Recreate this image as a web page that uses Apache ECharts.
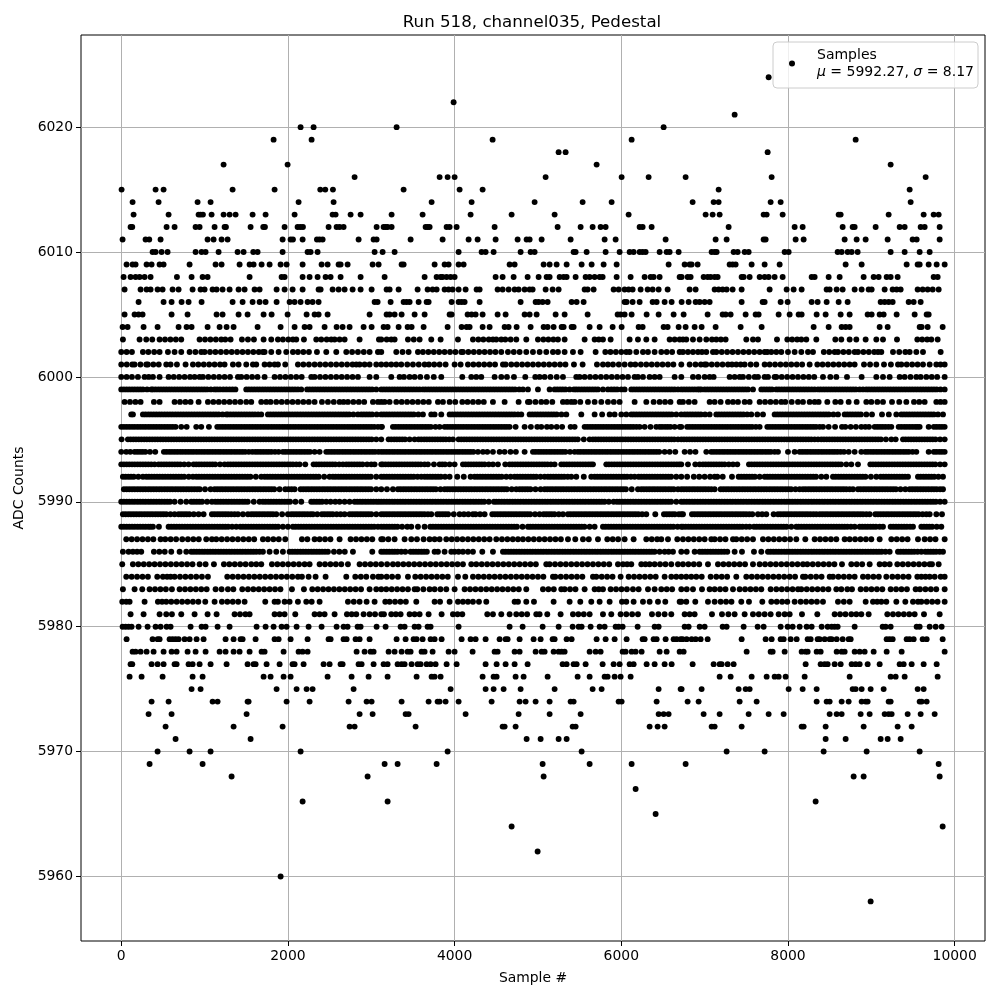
<!DOCTYPE html>
<html><head><meta charset="utf-8"><title>Pedestal</title>
<script src="https://cdn.jsdelivr.net/npm/echarts@6/dist/echarts.min.js"></script>
<style>html,body{margin:0;padding:0;background:#fff}#c{width:1000px;height:1000px}</style></head>
<body><div id="c"></div>
<script>
const titleText="Run 518, channel035, Pedestal";
const xTicks=[0,2000,4000,6000,8000,10000];
const yTicks=[5960,5970,5980,5990,6000,6010,6020];
const L6024=[7768];
const L6022=[3988];
const L6021=[7360];
const L6020=[2152,2308,3304,6508];
const L6019=[1828,2284,4456,6124,8812];
const L6018=[5248,5332,7756];
const L6017=[1228,1996,5704,9232];
const L6016=[2800,3820,3916,4000,5092,6004,6328,6772,7804,9652];
const L6015=[4,412,508,1336,1840,2388,2448,2540,3388,4060,4336,7168,9460];
const L6014=[136,448,916,1072,2128,2548,3724,4204,4960,5536,5884,6856,7108,7168,7792,7912,9472];
const L6013=[148,568,928,952,980,1084,1228,1300,1372,1576,1732,2080,2536,2572,2752,2872,3244,3616,4192,4684,5200,6088,7012,7096,7180,7708,7744,7936,8608,8632,9208,9628,9748,9808];
const L6012=[112,132,544,640,892,940,1120,1240,1256,1552,1704,1724,1960,2116,2148,2180,2488,2584,2620,2668,3064,3148,3172,3196,3244,3652,3676,3700,3904,3940,4024,4480,5236,5512,5656,5752,5812,6220,6256,6364,7288,8080,8176,8656,8776,8800,9052,9340,9400,9592,9640,9820];
const L6011=[16,292,336,472,1036,1108,1204,1276,1936,2032,2060,2176,2348,2380,2416,2848,3028,3064,3472,3856,4168,4276,4492,4756,4864,4900,5044,5392,5800,5932,6532,7132,7264,7708,7732,8092,8188,8680,8824,8932,9196,9496,9544,9820];
const L6010=[376,412,484,556,892,964,1012,1168,1396,1468,1584,1636,1936,2236,2272,2356,3040,3136,3280,4048,4324,4372,4468,4792,4912,4960,5428,5452,5584,5812,5980,6100,6148,6220,6256,6292,6460,6544,6580,6688,7084,7120,7144,7348,7396,7480,7528,7960,8008,8596,8644,8716,8764,8836,9232,9400,9580,9700];
const L6009=[64,136,172,304,364,460,508,820,1132,1204,1420,1540,1588,1684,1780,1912,1984,2176,2404,2476,2608,2632,2716,3016,3088,3364,3388,3760,3880,3928,4048,4108,4660,4720,5068,5140,5224,5344,5524,5644,5788,5944,6568,6760,6820,6844,6916,7300,7336,7372,7564,7720,7900,8692,8884,9424,9556,9580,9688,9784,9880];
const L6008=[28,112,172,220,280,352,668,844,976,1036,1540,1924,1960,2176,2260,2356,2452,2512,2632,2872,3160,3640,3784,3832,3856,3904,3952,4000,4492,4576,4708,4876,5008,5104,5140,5260,5308,5344,5452,5572,5620,5680,5740,5776,5944,6112,6280,6352,6388,6460,6700,6724,6796,6832,6988,7036,7072,7120,7156,7444,7468,7540,7660,7720,7768,7840,7936,8284,8320,8488,8620,8908,9028,9088,9184,9232,9316,9748,9796];
const L6007=[40,232,304,352,436,496,616,688,856,952,1000,1096,1144,1216,1300,1408,1480,1600,1660,1864,1960,2056,2176,2368,2392,2536,2608,2680,2776,2872,3004,3184,3220,3328,3556,3676,3736,3784,3880,3928,3976,4048,4132,4264,4300,4516,4576,4648,4720,4768,4840,4900,4936,5092,5176,5248,5560,5596,5668,5908,5968,6040,6088,6136,6232,6316,6376,6448,6556,6820,6892,7120,7168,7216,7264,7336,7444,7780,7984,8068,8164,8464,8500,8584,8656,8800,8884,8968,9004,9160,9256,9304,9352,9556,9616,9676,9736,9808];
const L6006=[208,508,604,724,808,964,1336,1456,1576,1660,1732,1864,2020,2080,2152,2236,2296,2368,3040,3076,3232,3388,3424,3460,3568,3664,3688,3964,4048,4084,4120,4300,4792,4972,5008,5056,5116,5404,5464,5548,6040,6064,6136,6220,6376,6424,6520,6604,6724,6808,6892,6940,7000,7060,7444,7696,7720,7912,7996,8284,8356,8464,8608,8716,9112,9160,9208,9256,9448,9508,9592];
const L6005=[40,160,208,256,604,796,1144,1216,1408,1516,1708,1804,1996,2224,2320,2368,2476,2980,3184,3220,3280,3364,3520,3640,3940,3964,4156,4204,4252,4336,4516,4612,4840,4900,4984,5212,5320,5596,5956,5992,6040,6124,6304,6448,6628,6748,7036,7216,7252,7312,7492,7612,7648,7888,8020,8128,8164,8344,8452,8632,8740,8956,9004,9100,9148,9304,9520,9664,9688];
const L6004=[16,76,268,436,688,784,844,1036,1180,1264,1348,1636,1912,2080,2200,2260,2440,2584,2656,2740,2908,3004,3148,3196,3328,3436,3484,3628,3916,4084,4144,4180,4336,4420,4600,4648,4744,4912,5068,5116,5188,5284,5308,5404,5428,5620,5740,5896,6004,6208,6256,6508,6556,6688,6772,6880,6964,7132,7432,7684,8308,8488,8644,8692,8740,9100,9196,9580,9604,9676,9856];
const L6003=[20,220,300,372,460,525,590,655,720,940,1005,1070,1135,1200,1248,1312,1448,1520,1592,1708,1800,1880,1940,2005,2060,2100,2192,2340,2400,2465,2520,2560,2620,2680,2860,3092,3120,3185,3240,3280,3440,3510,3580,3720,3832,4040,4220,4285,4345,4410,4460,4500,4560,4608,4672,4740,4860,5000,5065,5125,5185,5240,5320,5560,5680,5730,5780,5872,6100,6200,6300,6400,6580,6640,6700,6740,6780,6860,6940,7020,7088,7140,7195,7252,7500,7580,7640,7868,7992,8050,8110,8160,8220,8340,8568,8640,8740,8820,8932,9060,9140,9308,9552,9610,9670,9720,9796];
const L6002=[0,64,128,260,325,395,460,560,640,720,820,890,960,1000,1065,1130,1195,1260,1325,1390,1455,1520,1585,1650,1700,1720,1800,1888,1980,2060,2120,2185,2252,2348,2460,2580,2700,2770,2840,2910,2980,3080,3120,3300,3375,3448,3560,3620,3685,3750,3815,3880,3945,4010,4080,4100,4165,4230,4295,4360,4425,4490,4560,4640,4710,4780,4860,4940,5020,5100,5180,5240,5320,5420,5512,5692,5808,5870,5935,6000,6060,6100,6180,6260,6320,6400,6480,6545,6610,6700,6740,6800,6860,6920,6968,7020,7100,7140,7205,7270,7335,7400,7465,7530,7595,7660,7720,7752,7800,7860,7920,8000,8080,8160,8240,8300,8430,8495,8560,8600,8665,8730,8800,8840,8905,8970,9035,9080,9120,9260,9335,9408,9460,9540,9620,9832];
const L6001=[0,66,132,160,230,300,320,385,450,540,592,668,772,860,925,990,1055,1120,1185,1240,1340,1408,1500,1580,1620,1720,1780,1840,1880,1968,2120,2185,2252,2320,2385,2450,2515,2580,2645,2710,2775,2820,2860,2920,2980,3060,3120,3180,3240,3300,3360,3432,3500,3570,3640,3692,3755,3820,3892,4000,4072,4160,4225,4290,4355,4420,4485,4580,4612,4680,4745,4810,4875,4940,5005,5070,5135,5200,5265,5330,5432,5536,5708,5780,5840,5900,5970,6040,6112,6168,6235,6300,6365,6430,6495,6560,6625,6720,6820,6890,6955,7000,7020,7085,7150,7215,7280,7328,7380,7432,7480,7552,7620,7720,7780,7845,7910,7975,8040,8105,8170,8260,8352,8415,8480,8545,8610,8675,8740,8800,8912,8985,9060,9152,9235,9320,9360,9425,9490,9555,9620,9700,9780,9830,9880];
const L6000=[0,64,128,200,280,330,380,460,568,630,695,760,825,880,940,980,1045,1110,1175,1240,1305,1400,1440,1505,1570,1635,1720,1840,1905,1970,2035,2100,2165,2280,2320,2385,2450,2515,2580,2645,2710,2775,2840,2980,3060,3240,3340,3392,3460,3520,3588,3668,3750,3840,4092,4200,4260,4320,4480,4560,4628,4712,4848,4968,5020,5080,5150,5225,5300,5460,5500,5560,5625,5690,5755,5820,5885,5950,6015,6080,6160,6200,6260,6340,6400,6460,6640,6720,6860,6925,7000,7060,7108,7300,7360,7420,7460,7530,7600,7640,7720,7760,7840,7860,7925,7990,8055,8120,8185,8250,8315,8420,8508,8580,8708,8884,9060,9140,9220,9340,9400,9470,9540,9592,9660,9725,9790,9880];
const L5999=[0,65,130,195,260,360,380,445,510,575,640,705,770,835,900,965,1030,1120,1150,1225,1300,1370,1500,1565,1630,1695,1760,1825,1890,1955,2020,2085,2160,2230,2295,2360,2425,2490,2555,2620,2685,2750,2815,2880,2945,3010,3120,3185,3250,3315,3380,3445,3510,3580,3620,3685,3750,3815,3880,3945,4010,4075,4140,4205,4270,4335,4400,4465,4530,4595,4660,4725,4820,4880,5000,5140,5200,5265,5330,5432,5460,5525,5590,5655,5720,5840,5880,5950,6040,6120,6185,6250,6315,6380,6445,6510,6575,6640,6720,6785,6850,6915,6960,7000,7065,7130,7195,7260,7325,7390,7455,7520,7580,7680,7745,7808,7860,7925,7990,8055,8120,8185,8250,8320,8360,8425,8490,8555,8620,8685,8750,8815,8900,8940,9005,9070,9135,9200,9265,9330,9395,9460,9525,9590,9655,9720,9785,9880];
const X5999=[32,97,162,227,310,412,477,542,607,672,737,802,867,932,997,1075,1185,1262,1335,1532,1597,1662,1727,1792,1857,1922,1987,2052,2120,2262,2327,2392,2457,2522,2587,2652,2717,2782,2847,2912,2977,3060,3152,3217,3282,3347,3412,3477,3545,3652,3717,3782,3847,3912,3977,4042,4107,4172,4237,4302,4367,4432,4497,4562,4627,4692,4775,5232,5297,5380,5492,5557,5622,5687,5780,5915,6000,6152,6217,6282,6347,6412,6477,6542,6607,6680,6752,6817,6882,6937,7032,7097,7162,7227,7292,7357,7422,7487,7712,7777,7892,7957,8022,8087,8152,8217,8285,8392,8457,8522,8587,8652,8717,8782,8860,8972,9037,9102,9167,9232,9297,9362,9427,9492,9557,9622,9687,9752,9830];
const L5998=[40,105,170,232,392,460,640,705,770,832,928,1040,1105,1170,1235,1300,1365,1430,1500,1560,1680,1740,1792,1860,1925,1990,2055,2120,2185,2250,2320,2408,2480,2550,2620,2668,2720,2785,2850,2915,3020,3080,3120,3160,3220,3300,3365,3430,3495,3560,3625,3690,3800,3860,3940,4008,4092,4155,4220,4285,4350,4460,4600,4768,4880,4900,4970,5040,5100,5172,5300,5350,5400,5440,5508,5600,5680,5760,5840,5910,5980,6160,6300,6388,6460,6525,6590,6700,6740,6810,6880,7060,7120,7192,7280,7340,7400,7480,7540,7660,7725,7790,7855,7920,7968,8045,8120,8180,8260,8320,8368,8472,8568,8632,8728,8824,8940,9000,9072,9140,9248,9335,9420,9512,9575,9640,9780,9830,9880];
const L5997=[120,140,260,325,390,455,520,585,650,715,780,845,910,975,1040,1105,1170,1260,1280,1345,1410,1475,1540,1605,1680,1760,1825,1890,1955,2020,2085,2150,2215,2280,2345,2410,2475,2540,2605,2670,2735,2840,2880,2945,3010,3120,3185,3250,3315,3380,3445,3510,3620,3720,3760,3840,3940,4005,4070,4135,4200,4265,4330,4395,4460,4525,4590,4655,4720,4800,4900,4965,5030,5095,5160,5225,5340,5520,5680,5770,5860,5920,6000,6060,6120,6150,6215,6280,6345,6410,6475,6540,6605,6720,6760,6825,6890,6955,7060,7140,7205,7270,7335,7400,7465,7560,7632,7700,7840,7905,7970,8035,8100,8165,8230,8295,8360,8425,8490,8600,8680,8745,8810,8875,9008,9128,9210,9300,9360,9425,9490,9555,9620,9685,9750,9860];
const X5997=[292,357,422,487,552,617,682,747,812,877,942,1007,1072,1137,1215,1312,1377,1442,1507,1572,1642,1792,1857,1922,1987,2052,2117,2182,2247,2312,2377,2442,2507,2572,2637,2702,2785,2912,2977,3065,3152,3217,3282,3347,3412,3477,3565,3972,4037,4102,4167,4232,4297,4362,4427,4492,4557,4622,4687,4760,4932,4997,5062,5127,5192,5282,6182,6247,6312,6377,6442,6507,6572,6660,6792,6857,6922,7005,7172,7237,7302,7367,7432,7510,7872,7937,8002,8067,8132,8197,8262,8327,8392,8457,8545,8712,8777,8842,8940,9392,9457,9522,9587,9652,9717,9800];
const L5996=[0,65,130,195,260,325,390,455,520,585,652,720,785,900,960,1052,1152,1217,1282,1347,1412,1477,1542,1607,1672,1737,1802,1867,1932,1997,2062,2127,2192,2257,2322,2387,2452,2517,2582,2647,2712,2777,2842,2907,2972,3037,3120,3128,3260,3325,3390,3455,3520,3585,3650,3715,3820,3880,3945,4010,4075,4140,4205,4270,4335,4400,4465,4530,4595,4660,4732,4840,4915,4992,5040,5108,5160,5225,5290,5392,5440,5560,5625,5690,5755,5820,5885,5950,6015,6080,6145,6220,6280,6350,6420,6460,6525,6590,6700,6720,6790,6855,6920,6985,7050,7115,7180,7245,7310,7375,7440,7505,7570,7660,7752,7817,7882,7947,8012,8077,8142,8207,8272,8337,8420,8488,8565,8648,8688,8752,8815,8880,8928,8972,9040,9105,9170,9240,9328,9395,9460,9525,9580,9688,9750,9815,9880];
const X5996=[32,97,162,227,292,357,422,487,552,618,1184,1249,1314,1379,1444,1509,1574,1639,1704,1769,1834,1899,1964,2029,2094,2159,2224,2289,2354,2419,2484,2549,2614,2679,2744,2809,2874,2939,3004,3080,3292,3357,3422,3487,3552,3617,3682,3770,3912,3977,4042,4107,4172,4237,4302,4367,4432,4497,4562,4627,5592,5657,5722,5787,5852,5917,5982,6047,6112,6182,6490,6557,6640,6822,6887,6952,7017,7082,7147,7212,7277,7342,7407,7472,7537,7615,7784,7849,7914,7979,8044,8109,8174,8239,8304,8380,9072,9137,9205,9360,9427,9492,9552,9782,9847];
const L5995=[4,80,145,210,275,340,405,470,535,600,665,730,795,860,925,990,1055,1120,1185,1250,1315,1380,1445,1510,1575,1640,1705,1770,1835,1900,1965,2030,2095,2160,2225,2290,2355,2420,2485,2550,2615,2680,2745,2810,2875,2940,3005,3120,3208,3275,3340,3405,3520,3568,3635,3700,3765,3830,3895,3980,4048,4113,4178,4243,4308,4373,4438,4503,4568,4633,4698,4763,4828,4893,4958,5023,5088,5153,5218,5283,5348,5413,5478,5620,5660,5725,5790,5855,5920,5985,6050,6115,6180,6245,6310,6375,6440,6505,6570,6635,6720,6785,6850,6915,6980,7045,7110,7175,7240,7305,7370,7435,7500,7565,7630,7695,7760,7825,7890,7955,8020,8085,8150,8215,8280,8360,8400,8465,8530,8595,8660,8725,8790,8855,8920,8985,9050,9115,9240,9292,9380,9445,9510,9575,9640,9705,9770,9880];
const X5995=[112,177,242,307,372,437,502,567,632,697,762,827,892,957,1022,1087,1152,1217,1282,1347,1412,1477,1542,1607,1672,1737,1802,1867,1932,1997,2062,2127,2192,2257,2322,2387,2452,2517,2582,2647,2712,2777,2842,2907,2972,3060,3240,3307,3372,3460,3600,3667,3732,3797,3862,3935,4080,4145,4210,4275,4340,4405,4470,4535,4600,4665,4730,4795,4860,4925,4990,5055,5120,5185,5250,5315,5380,5445,5550,5692,5757,5822,5887,5952,6017,6082,6147,6212,6277,6342,6407,6472,6537,6602,6680,6752,6817,6882,6947,7012,7077,7142,7207,7272,7337,7402,7467,7532,7597,7662,7727,7792,7857,7922,7987,8052,8117,8182,8247,8320,8432,8497,8562,8627,8692,8757,8822,8887,8952,9017,9082,9175,9412,9477,9542,9607,9672,9737,9825];
const L5994=[0,60,108,160,225,290,345,408,512,577,642,707,772,837,902,967,1032,1097,1162,1227,1292,1357,1422,1487,1572,1608,1673,1738,1803,1888,1940,2005,2070,2135,2200,2265,2320,2380,2460,2525,2590,2655,2720,2785,2850,2915,2980,3045,3120,3185,3250,3315,3380,3445,3510,3575,3640,3705,3770,3835,3900,3965,4030,4095,4160,4225,4340,4392,4460,4540,4600,4670,4735,4840,4940,5005,5070,5135,5200,5265,5330,5440,5480,5545,5610,5675,5740,5805,5870,5935,6000,6065,6130,6195,6260,6325,6390,6455,6580,6648,6760,6825,6890,7020,7080,7145,7210,7275,7340,7405,7470,7535,7600,7665,7730,7795,7880,8000,8080,8140,8205,8270,8335,8400,8465,8530,8595,8672,8728,8800,8880,8928,8995,9060,9125,9190,9255,9320,9385,9450,9540,9688,9750,9815,9880];
const X5994=[192,257,544,609,674,739,804,869,934,999,1064,1129,1194,1259,1324,1389,1454,1530,1640,1705,1770,1845,1972,2037,2102,2167,2232,2492,2557,2622,2687,2752,2817,2882,2947,3012,3085,3152,3217,3282,3347,3412,3477,3542,3607,3672,3737,3802,3867,3932,3997,4062,4127,4192,4280,4972,5037,5102,5167,5232,5297,5385,5512,5577,5642,5707,5772,5837,5902,5967,6032,6097,6162,6227,6292,6357,6422,6520,7112,7177,7242,7307,7372,7437,7502,7567,7632,7697,7762,7840,8172,8237,8302,8367,8432,8497,8562,8632,8960,9027,9092,9157,9222,9287,9352,9417,9495,9780,9847];
const L5993=[0,65,130,195,260,325,400,448,513,578,643,708,808,868,933,998,1063,1128,1240,1280,1345,1410,1475,1540,1605,1670,1735,1800,1865,1930,1995,2060,2140,2208,2308,2373,2438,2503,2568,2660,2700,2765,2830,2895,3000,3040,3120,3140,3205,3270,3335,3400,3465,3530,3595,3680,3752,3820,3885,4000,4100,4165,4230,4295,4360,4460,4520,4608,4660,4725,4790,4855,4920,4985,5050,5115,5200,5280,5345,5410,5475,5540,5605,5660,5820,5885,5950,6015,6080,6145,6210,6275,6340,6405,6470,6535,6600,6665,6720,6800,6888,6940,6980,7045,7110,7175,7240,7340,7392,7532,7597,7662,7727,7792,7857,7922,7987,8052,8117,8182,8247,8312,8377,8442,8507,8572,8637,8760,8840,8988,9053,9118,9183,9248,9313,9378,9443,9508,9573,9638,9703,9768,9880];
const X5993=[32,97,162,227,292,360,480,545,610,675,755,900,965,1030,1095,1185,1312,1377,1442,1507,1572,1637,1702,1767,1832,1897,1962,2027,2100,2340,2405,2470,2535,2615,2732,2797,2862,2950,3172,3237,3302,3367,3432,3497,3562,3640,3852,3940,4132,4197,4262,4327,4410,4692,4757,4822,4887,4952,5017,5082,5155,5312,5377,5442,5507,5572,5635,5852,5917,5982,6047,6112,6177,6242,6307,6372,6437,6502,6567,6632,6695,7012,7077,7142,7207,7290,7564,7629,7694,7759,7824,7889,7954,8019,8084,8149,8214,8279,8344,8409,8474,8539,8604,8700,9020,9085,9150,9215,9280,9345,9410,9475,9540,9605,9670,9735,9825];
const L5992=[20,85,150,260,300,365,430,495,560,625,690,755,860,900,965,1030,1095,1160,1225,1290,1355,1420,1485,1550,1680,1720,1785,1850,1915,1980,2045,2110,2175,2240,2305,2370,2500,2540,2605,2670,2735,2800,2865,2930,2995,3120,3185,3250,3315,3380,3445,3510,3600,3640,3705,3770,3835,3940,4032,4110,4192,4240,4305,4370,4435,4500,4565,4672,4720,4785,4850,4915,4980,5080,5120,5185,5250,5315,5400,5460,5550,5640,5680,5745,5810,5875,5940,6005,6070,6160,6208,6273,6338,6403,6468,6533,6598,6720,6790,6870,6935,7000,7065,7120,7152,7217,7328,7408,7473,7538,7603,7720,7752,7817,7882,7947,8012,8077,8142,8207,8272,8337,8460,8540,8605,8670,8735,8800,8865,8930,9060,9112,9177,9242,9307,9372,9440,9560,9625,9690,9755,9860];
const X5992=[52,117,205,332,397,462,527,592,657,722,810,932,997,1062,1127,1192,1257,1322,1387,1452,1517,1615,1752,1817,1882,1947,2012,2077,2142,2207,2272,2337,2435,2572,2637,2702,2767,2832,2897,2962,3060,3152,3217,3282,3347,3412,3477,3555,3672,3737,3802,3885,4272,4337,4402,4467,4532,4620,4752,4817,4882,4947,5030,5152,5217,5282,5357,5712,5777,5842,5907,5972,6037,6115,6240,6305,6370,6435,6500,6565,6660,7440,7505,7570,7660,7784,7849,7914,7979,8044,8109,8174,8239,8304,8400,8572,8637,8702,8767,8832,8897,8995,9145,9210,9275,9340,9405,9592,9657,9722,9805];
const L5991=[32,97,162,227,292,357,422,487,552,617,682,747,812,877,942,1072,1120,1185,1250,1315,1380,1445,1510,1575,1640,1705,1770,1835,1968,2008,2080,2152,2217,2282,2347,2412,2477,2542,2607,2672,2737,2802,2867,2932,2997,3120,3188,3260,3320,3385,3450,3515,3580,3645,3710,3775,3880,3912,3977,4042,4107,4172,4237,4302,4367,4432,4497,4562,4627,4740,4780,4845,4910,5032,5080,5145,5210,5275,5340,5405,5470,5535,5600,5665,5730,5795,5860,5925,5990,6055,6200,6240,6305,6370,6435,6500,6565,6630,6720,6785,6850,6915,6980,7045,7120,7192,7257,7322,7387,7452,7517,7582,7647,7712,7777,7842,7907,7972,8037,8140,8180,8245,8310,8375,8440,8505,8570,8635,8700,8780,8840,8905,8970,9035,9100,9165,9230,9295,9408,9460,9525,9590,9655,9720,9785,9860];
const X5991=[65,130,195,260,325,390,455,520,585,650,715,780,845,910,1005,1152,1217,1282,1347,1412,1477,1542,1607,1672,1737,1802,1900,2044,2184,2249,2314,2379,2444,2509,2574,2639,2704,2769,2834,2899,2964,3060,3352,3417,3482,3547,3612,3677,3742,3830,3944,4009,4074,4139,4204,4269,4334,4399,4464,4529,4594,4685,4812,4877,4970,5112,5177,5242,5307,5372,5437,5502,5567,5632,5697,5762,5827,5892,5957,6022,6125,6272,6337,6402,6467,6532,6597,6680,6752,6817,6882,6947,7012,7080,7224,7289,7354,7419,7484,7549,7614,7679,7744,7809,7874,7939,8004,8090,8212,8277,8342,8407,8472,8537,8602,8667,8740,8872,8937,9002,9067,9132,9197,9262,9350,9492,9557,9622,9687,9752,9825];
const L5990=[0,65,130,195,260,325,390,455,520,585,712,780,840,905,970,1088,1128,1193,1258,1323,1388,1453,1518,1660,1700,1765,1830,1895,1960,2025,2160,2280,2345,2410,2512,2568,2620,2680,2740,2800,2865,2930,2995,3060,3120,3185,3250,3315,3380,3445,3510,3575,3640,3705,3770,3835,3900,3965,4030,4095,4160,4225,4290,4355,4472,4500,4565,4630,4695,4760,4825,4890,4955,5020,5085,5150,5215,5280,5345,5410,5475,5540,5605,5670,5735,5800,5908,5948,6013,6078,6143,6208,6273,6338,6403,6468,6533,6598,6720,6785,6850,6915,6980,7045,7110,7175,7240,7305,7370,7435,7500,7565,7630,7695,7760,7825,7890,7955,8020,8085,8150,8215,8280,8345,8410,8475,8540,8605,8670,8735,8800,8865,8930,8995,9060,9125,9190,9255,9320,9385,9450,9515,9580,9645,9710,9775,9880];
const X5990=[32,97,162,227,292,357,422,487,552,640,872,937,1030,1160,1225,1290,1355,1420,1485,1590,1732,1797,1862,1927,1992,2090,2312,2377,2460,2832,2897,2962,3027,3090,3152,3217,3282,3347,3412,3477,3542,3607,3672,3737,3802,3867,3932,3997,4062,4127,4192,4257,4322,4410,4532,4597,4662,4727,4792,4857,4922,4987,5052,5117,5182,5247,5312,5377,5442,5507,5572,5637,5702,5767,5850,5980,6045,6110,6175,6240,6305,6370,6435,6500,6565,6660,6752,6817,6882,6947,7012,7077,7142,7207,7272,7337,7402,7467,7532,7597,7662,7727,7792,7857,7922,7987,8052,8117,8182,8247,8312,8377,8442,8507,8572,8637,8702,8767,8832,8897,8962,9027,9092,9157,9222,9287,9352,9417,9482,9547,9612,9677,9742,9825];
const L5989=[20,85,150,215,280,345,410,475,540,640,688,753,818,928,988,1088,1153,1218,1283,1360,1400,1460,1520,1560,1625,1690,1755,1820,1860,1930,2000,2040,2105,2170,2235,2300,2352,2408,2473,2538,2632,2680,2740,2805,2870,2935,3000,3120,3185,3250,3315,3380,3445,3510,3575,3640,3720,3792,3857,3922,4060,4112,4165,4220,4252,4305,4360,4452,4517,4582,4647,4712,4777,4842,4907,5020,5068,5133,5198,5300,5360,5425,5490,5555,5620,5685,5750,5815,5880,5945,6010,6075,6140,6205,6300,6408,6512,6577,6642,6720,6740,6848,6913,6978,7043,7108,7173,7238,7303,7368,7433,7498,7572,7640,7690,7740,7828,7880,7945,8010,8075,8140,8205,8270,8340,8380,8445,8510,8575,8640,8705,8770,8835,8900,8980,9048,9113,9178,9243,9308,9373,9438,9503,9568,9660,9700,9780,9848];
const X5989=[52,117,182,247,312,377,442,507,590,720,785,870,1120,1185,1250,1320,1592,1657,1722,1787,2072,2137,2202,2270,2440,2505,2585,2772,2837,2902,2967,3060,3152,3217,3282,3347,3412,3477,3542,3607,3680,3824,3889,3990,4484,4549,4614,4679,4744,4809,4874,4965,5100,5165,5250,5392,5457,5522,5587,5652,5717,5782,5847,5912,5977,6042,6107,6172,6250,6545,6610,6690,6880,6945,7010,7075,7140,7205,7270,7335,7400,7465,7535,7912,7977,8042,8107,8172,8237,8305,8412,8477,8542,8607,8672,8737,8802,8867,8940,9080,9145,9210,9275,9340,9405,9470,9535,9615];
const L5988=[0,65,130,195,260,325,380,452,568,633,698,763,828,893,958,1023,1088,1153,1218,1283,1380,1428,1493,1558,1623,1688,1753,1818,1883,2000,2060,2125,2190,2255,2320,2385,2450,2515,2580,2645,2710,2775,2840,2905,2970,3035,3120,3185,3250,3315,3432,3480,3560,3640,3708,3773,3838,3903,3968,4033,4098,4163,4228,4293,4358,4423,4488,4553,4618,4683,4748,4880,4908,4973,5038,5103,5168,5233,5298,5363,5428,5493,5558,5680,5780,5845,5910,5975,6040,6105,6170,6235,6300,6365,6430,6495,6560,6625,6720,6740,6805,6870,6935,7000,7065,7130,7195,7260,7325,7390,7455,7540,7592,7657,7722,7787,7852,7917,7982,8100,8128,8193,8258,8323,8388,8453,8518,8583,8648,8713,8800,8860,8925,8990,9055,9140,9232,9297,9362,9427,9500,9600,9665,9730,9840];
const X5988=[32,97,162,227,292,352,600,665,730,795,860,925,990,1055,1120,1185,1250,1330,1460,1525,1590,1655,1720,1785,1850,1940,2092,2157,2222,2287,2352,2417,2482,2547,2612,2677,2742,2807,2872,2937,3002,3080,3152,3217,3282,3370,3740,3805,3870,3935,4000,4065,4130,4195,4260,4325,4390,4455,4520,4585,4650,4715,4815,4940,5005,5070,5135,5200,5265,5330,5395,5460,5525,5620,5812,5877,5942,6007,6072,6137,6202,6267,6332,6397,6462,6527,6592,6675,6772,6837,6902,6967,7032,7097,7162,7227,7292,7357,7422,7498,7624,7689,7754,7819,7884,7949,8040,8160,8225,8290,8355,8420,8485,8550,8615,8680,8755,8892,8957,9022,9100,9264,9329,9394,9465,9632,9697,9785];
const L5987=[60,125,190,255,320,385,472,528,593,658,732,800,865,930,1020,1088,1140,1205,1270,1335,1400,1465,1530,1595,1700,1760,1825,1890,1968,2168,2233,2320,2380,2445,2510,2620,2752,2817,2882,2947,3012,3120,3140,3205,3280,3400,3480,3548,3628,3700,3760,3820,3900,3965,4030,4095,4160,4225,4290,4355,4420,4500,4568,4633,4698,4760,4820,4885,4950,5015,5080,5145,5210,5275,5360,5448,5540,5610,5720,5832,5897,5962,6040,6148,6300,6365,6430,6480,6560,6672,6740,6805,6870,6935,7000,7080,7120,7185,7250,7340,7380,7445,7510,7580,7700,7765,7830,7895,7960,8025,8100,8208,8320,8385,8450,8515,8580,8680,8740,8805,8870,8935,9000,9100,9240,9305,9370,9435,9560,9640,9705,9770,9880];
const L5986=[20,88,140,190,240,392,457,522,600,700,780,840,905,970,1035,1100,1165,1230,1295,1360,1425,1490,1555,1620,1700,1780,1860,1940,2020,2085,2150,2215,2280,2345,2410,2480,2552,2617,2682,2780,3012,3120,3185,3250,3315,3408,3472,3537,3602,3667,3760,3800,3880,3960,4000,4048,4100,4160,4220,4332,4460,4580,4645,4710,4775,4840,4905,4970,5035,5100,5165,5230,5295,5360,5425,5490,5555,5620,5685,5750,5815,5880,5945,6010,6075,6140,6205,6270,6335,6400,6520,6568,6620,6720,6785,6880,6940,7005,7070,7135,7200,7272,7360,7448,7592,7680,7760,7825,7890,7955,8020,8085,8150,8215,8280,8345,8410,8475,8540,8605,8670,8735,8800,8865,8930,8995,9060,9125,9220,9320,9385,9450,9515,9600,9648,9713,9778,9860];
const X5986=[872,937,1002,1067,1132,1197,1262,1327,1392,1457,1522,1587,1660,2052,2117,2182,2247,2312,2377,2445,3152,3217,3282,3360,3504,3569,3634,4612,4677,4742,4807,4872,4937,5002,5067,5132,5197,5262,5327,5392,5457,5522,5587,5652,5717,5782,5847,5912,5977,6042,6107,6172,6237,6302,6367,6460,6972,7037,7102,7167,7235,7792,7857,7922,7987,8052,8117,8182,8247,8312,8377,8442,8507,8572,8637,8702,8767,8832,8897,8962,9027,9092,9170,9352,9417,9482,9555,9680,9745,9820];
const L5985=[12,140,205,270,335,400,465,530,595,660,725,790,855,940,1012,1112,1232,1297,1362,1427,1492,1560,1620,1680,1808,1873,1938,2003,2068,2133,2200,2260,2380,2445,2510,2575,2640,2720,2860,2925,2990,3055,3120,3190,3260,3320,3385,3450,3515,3580,3645,3710,3775,3840,3905,3970,4035,4100,4200,4260,4325,4390,4455,4520,4585,4650,4715,4780,4845,4910,4975,5100,5140,5205,5270,5335,5400,5465,5530,5595,5660,5725,5790,5855,5960,6020,6070,6120,6240,6290,6340,6400,6465,6530,6600,6680,6740,6805,6870,6935,7040,7160,7225,7290,7355,7420,7485,7580,7660,7725,7790,7855,7920,7985,8050,8115,8180,8232,8297,8362,8427,8492,8557,8648,8760,8825,8890,8980,9100,9160,9220,9312,9377,9442,9507,9572,9637,9700,9728,9808];
const L5984=[60,125,190,255,320,432,500,550,592,640,705,770,835,900,968,1040,1272,1337,1402,1467,1532,1597,1662,1727,1792,1857,1922,1987,2052,2120,2168,2248,2332,2452,2700,2808,2875,2940,3020,3085,3120,3185,3250,3320,3440,3528,3593,3658,3723,3788,3853,3918,4040,4128,4220,4285,4350,4415,4480,4545,4610,4675,4740,4805,4870,4935,5000,5065,5180,5208,5273,5338,5403,5468,5533,5660,5700,5765,5830,5895,5992,6088,6153,6218,6283,6348,6413,6520,6600,6660,6720,6780,6840,6900,6965,7072,7140,7205,7270,7380,7500,7565,7630,7695,7760,7825,7890,7955,8020,8085,8180,8208,8273,8338,8403,8500,8540,8605,8670,8735,8800,8900,8960,9025,9090,9180,9252,9317,9382,9447,9552,9600,9650,9700,9760,9832,9880];
const L5983=[20,160,252,340,405,470,535,608,700,765,830,895,960,1025,1132,1204,1280,1345,1452,1520,1585,1650,1715,1780,1845,1910,2048,2192,2292,2357,2422,2487,2552,2617,2682,2747,2812,2877,2980,3060,3120,3180,3245,3310,3375,3440,3520,3552,3625,3700,3760,3830,3900,4000,4120,4185,4250,4315,4380,4445,4510,4575,4640,4705,4770,4860,5060,5125,5190,5280,5320,5385,5450,5560,5680,5730,5780,5872,5937,6002,6067,6140,6208,6320,6400,6480,6545,6610,6720,6785,6860,6968,7060,7120,7185,7250,7340,7420,7485,7550,7615,7680,7792,7860,7925,7990,8055,8120,8160,8225,8290,8355,8420,8485,8580,8640,8712,8768,8872,8937,9002,9067,9132,9232,9297,9362,9427,9532,9584,9649,9714,9779,9880];
const L5982=[12,60,100,280,440,490,540,600,665,730,795,860,925,1008,1120,1208,1273,1338,1403,1480,1728,1840,1880,1960,2020,2120,2220,2285,2380,2720,2790,2860,2944,3040,3168,3220,3285,3350,3415,3540,3760,3825,3940,4040,4100,4160,4220,4292,4380,4720,4760,4860,4952,5188,5380,5508,5640,5740,5860,6008,6060,6148,6260,6340,6440,6528,6700,6720,6780,6888,7040,7120,7192,7257,7322,7440,7532,7692,7800,7865,7930,7992,8080,8152,8217,8282,8347,8420,8600,8670,8740,8932,9020,9070,9120,9180,9300,9408,9500,9560,9600,9665,9730,9795,9880];
const L5981=[112,268,460,540,608,720,880,1036,1144,1360,1425,1490,1540,1840,1900,1960,2088,2320,2380,2440,2560,2708,2765,2820,2908,2980,3045,3120,3152,3240,3295,3352,3460,3520,3580,3688,3844,3980,4035,4092,4392,4460,4560,4660,4740,4805,4870,4980,5020,5112,5272,5420,5485,5550,5620,5780,5880,5992,6060,6130,6200,6368,6445,6520,6600,6760,6820,6880,7088,7208,7285,7360,7480,7580,7650,7720,7792,7888,7960,8020,8168,8352,8560,8625,8690,8760,8820,8880,8968,9192,9260,9325,9390,9455,9520,9632,9820];
const L5980=[16,52,88,124,208,316,412,472,544,592,832,964,1012,1156,1300,1624,1732,1828,1924,1984,2104,2248,2404,2584,2668,2716,2836,2872,3064,3172,3352,3400,3520,3568,3676,3712,4048,4660,4816,5056,5248,5416,5488,5524,5632,5740,5800,5932,5968,6016,6196,6400,6448,6760,6808,6940,7000,7216,7264,7468,7636,7708,7912,7996,8056,8140,8224,8284,8404,8476,8524,8560,8596,8800,9136,9172,9232,9544,9580,9700,9772,9844];
const L5979=[64,376,436,460,580,616,652,688,760,820,904,988,1252,1348,1432,1456,1612,1840,1888,2032,2236,2488,2512,2668,2704,2812,2860,2980,3304,3412,3508,3544,3616,3712,3760,3844,4084,4192,4252,4372,4540,4612,4636,4780,4948,5032,5176,5200,5344,5404,5704,5812,5920,6064,6256,6280,6388,6424,6532,6628,6664,6712,6736,6784,6844,6892,6952,7036,7444,7732,7804,7912,7948,8032,8104,8236,8272,8356,8380,8440,8500,8524,8584,8656,8728,8752,9184,9220,9256,9424,9460,9508,9616,9664,9856];
const L5978=[136,172,232,304,388,508,604,664,796,892,1012,1180,1252,1348,1420,1540,1684,1720,1948,2128,2176,2236,2824,2920,2992,3028,3208,3280,3364,3436,3472,3604,3640,3736,3928,4000,4216,4480,4516,4720,4780,4972,5044,5080,5188,5248,5284,5320,5620,5692,5752,6016,6052,6124,6172,6244,6460,6544,6700,6748,7504,7792,7816,7960,8164,8212,8236,8344,8392,8584,8644,8680,8800,8860,8920,9028,9184,9364,9880];
const L5977=[112,132,364,436,508,640,664,808,856,940,1072,1264,1516,1588,1612,1744,1900,2056,2080,2188,2428,2500,2632,2656,2848,2884,3028,3148,3196,3316,3364,3400,3484,3556,3592,3664,3712,3772,3904,4024,4372,4504,4612,4720,4876,5296,5344,5428,5464,5572,5776,5908,5980,6100,6148,6304,6400,6520,6604,6856,7108,7180,7204,7276,7348,8212,8392,8440,8476,8560,8632,8764,8812,8860,8956,9100,9340,9388,9484,9628,9784];
const L5976=[100,244,496,856,976,1708,1792,1948,2032,2476,2764,2968,3196,3544,3724,3760,3832,4336,4468,4504,4732,4828,5116,5476,5620,5800,5836,5920,5992,6112,7180,7312,7564,7744,7840,7888,7972,8200,8740,9232,9292,9400,9796];
const L5975=[844,952,1864,2104,2224,2296,2788,3952,4372,4468,4588,4792,5200,5656,5764,6448,6712,6724,6964,7408,7492,7540,8008,8176,8344,8776,8812,8884,8992,9148,9556,9628];
const L5974=[364,568,1096,1156,1516,1528,1984,2260,2728,2944,3004,3364,3688,3796,3820,3892,4048,4444,4780,4852,4972,5140,5392,5428,5968,6004,6424,6796,6928,7420,7624,8344,8464,8500,8644,8728,8884,8932,8956,9208,9232,9580,9604,9664];
const L5973=[328,604,1504,2860,3016,3412,3448,4132,4768,5140,5512,6448,6508,6568,6988,7180,7528,7768,7948,8500,8584,8644,8872,8980,9160,9208,9244,9436,9592,9760];
const L5972=[532,1348,1936,2740,2800,3532,4576,4600,4732,5416,5452,6340,6436,6520,7084,7120,7444,8164,8188,8452,8908,9316,9484];
const L5971=[652,1552,4864,5032,5248,5344,8452,8692,9112,9196,9352];
const L5970=[436,820,1072,2152,3916,5524,7264,7720,8428,8944,9580];
const L5969=[340,976,3160,3316,3784,5056,5620,6124,6772,9808];
const L5968=[1324,2956,5068,8788,8908,9820];
const L5967=[6172];
const L5966=[2176,3196,8332];
const L5965=[6412];
const L5964=[4684,9856];
const L5962=[4996];
const L5960=[1912];
const L5958=[8992];
const rows=[[6024,L6024],[6022,L6022],[6021,L6021],[6020,L6020],[6019,L6019],[6018,L6018],[6017,L6017],[6016,L6016],[6015,L6015],[6014,L6014],[6013,L6013],[6012,L6012],[6011,L6011],[6010,L6010],[6009,L6009],[6008,L6008],[6007,L6007],[6006,L6006],[6005,L6005],[6004,L6004],[6003,L6003],[6002,L6002],[6001,L6001],[6000,L6000],[5999,L5999],[5999,X5999],[5998,L5998],[5997,L5997],[5997,X5997],[5996,L5996],[5996,X5996],[5995,L5995],[5995,X5995],[5994,L5994],[5994,X5994],[5993,L5993],[5993,X5993],[5992,L5992],[5992,X5992],[5991,L5991],[5991,X5991],[5990,L5990],[5990,X5990],[5989,L5989],[5989,X5989],[5988,L5988],[5988,X5988],[5987,L5987],[5986,L5986],[5986,X5986],[5985,L5985],[5984,L5984],[5983,L5983],[5982,L5982],[5981,L5981],[5980,L5980],[5979,L5979],[5978,L5978],[5977,L5977],[5976,L5976],[5975,L5975],[5974,L5974],[5973,L5973],[5972,L5972],[5971,L5971],[5970,L5970],[5969,L5969],[5968,L5968],[5967,L5967],[5966,L5966],[5965,L5965],[5964,L5964],[5962,L5962],[5960,L5960],[5958,L5958]];
const points=[];
rows.forEach(r=>r[1].forEach(s=>points.push([s,r[0]])));
const font='"DejaVu Sans"';
const chart=echarts.init(document.getElementById('c'),null,{renderer:'canvas'});
const axisBase={
  axisLine:{show:false,onZero:false},
  axisTick:{show:true,length:5,lineStyle:{color:'#000',width:1}},
  axisLabel:{color:'#000',fontFamily:font,fontSize:13.9,margin:8,formatter:v=>String(v)},
  splitLine:{show:true,lineStyle:{color:'#b0b0b0',width:1}},
  nameLocation:'middle',
  nameTextStyle:{color:'#000',fontFamily:font,fontSize:13.9}
};
chart.setOption({
  animation:false,
  backgroundColor:'#fff',
  title:{text:titleText,left:527,top:9,textAlign:'center',textStyle:{color:'#000',fontFamily:font,fontSize:16.67,fontWeight:'normal',align:'center'}},
  grid:{left:81,top:35,width:904,height:906,show:true,borderColor:'#000',borderWidth:1,backgroundColor:'transparent'},
  xAxis:Object.assign({},axisBase,{type:'value',name:'Sample #',nameGap:30,min:-483,max:10364,
    axisTick:Object.assign({},axisBase.axisTick,{customValues:xTicks}),
    axisLabel:Object.assign({},axisBase.axisLabel,{customValues:xTicks})}),
  yAxis:Object.assign({},axisBase,{type:'value',name:'ADC Counts',nameGap:50,min:5954.83,max:6027.38,
    axisTick:Object.assign({},axisBase.axisTick,{customValues:yTicks}),
    axisLabel:Object.assign({},axisBase.axisLabel,{customValues:yTicks})}),
  legend:{
    left:773,top:42,orient:'vertical',padding:[6,4,9,16],
    backgroundColor:'rgba(255,255,255,0.8)',borderColor:'#ccc',borderWidth:1,borderRadius:4,
    itemWidth:6,itemHeight:6,
    data:[{name:'Samples',icon:'circle'}],
    formatter:()=>'{s|}{t|Samples}\n{s|}{i|\u03bc} {t|= 5992.27,} {i|\u03c3} {t|= 8.17}',
    textStyle:{fontFamily:font,fontSize:14,color:'#000',
      rich:{s:{width:17,height:16},t:{fontFamily:font,fontSize:14,color:'#000',lineHeight:17},i:{fontFamily:font,fontStyle:'italic',fontSize:14,color:'#000',lineHeight:17}}}
  },
  series:[{name:'Samples',type:'scatter',data:points,symbol:'circle',symbolSize:5.9,
    itemStyle:{color:'#000',opacity:1},emphasis:{disabled:true},silent:true,large:false,progressive:0}]
});
</script></body></html>
